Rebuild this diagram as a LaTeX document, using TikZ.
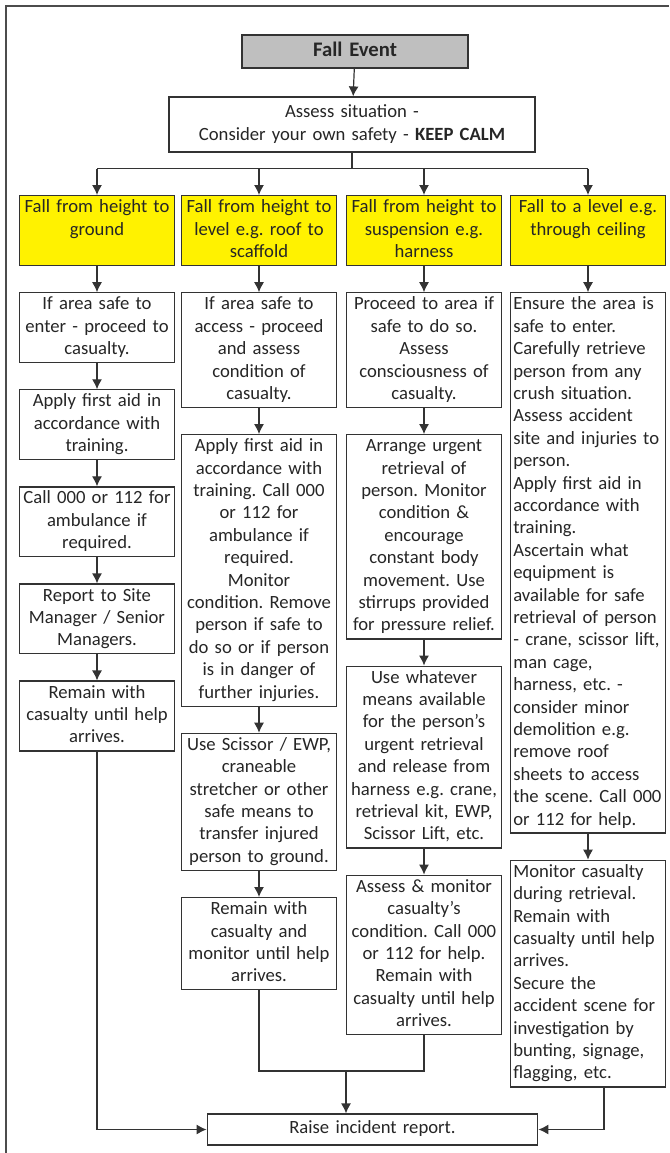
\documentclass[tikz,border=0pt]{standalone}
\usepackage{fontspec}
\setmainfont{Carlito}
\frenchspacing
\usetikzlibrary{positioning,arrows.meta}

\tikzset{
  txt/.style={font=\fontsize{14}{16.8}\selectfont},
  box/.style={draw=black!80, fill=white, text=black!85, txt, inner xsep=0pt, inner ysep=1pt,
    text width=116pt, align=center, execute at begin node=\strut, execute at end node=\strut},
  lbox/.style={box, align=left, inner xsep=2pt, text width=112pt},
  ybox/.style={box, fill=yellow, minimum height=52.5pt},
}

\begin{document}
\begin{tikzpicture}[x=0.75pt, y=-0.75pt, line width=0.9pt, draw=black!80, >={Latex[length=7.5pt,width=7.5pt]}, node distance=19.5pt]
\useasboundingbox (0,0) rectangle (669,1153);

% frame (only top and left edge show)
\draw[black!70, line width=1.1pt] (6,1153) -- (6,6) -- (669,6);

\node[box, fill=black!25, text width=169.5pt, minimum height=24.75pt, font=\fontsize{15.5}{18}\selectfont\bfseries] (event) at (355,51.5) {Fall Event};
\node[box, text width=274.5pt, minimum height=41.25pt] (assess) at (352,124.5) {Assess situation -\\Consider your own safety - \textbf{KEEP CALM}};

% kinds of fall
\node[ybox, anchor=north] (ground)  at (97,195)  {Fall from height to\\ground\\\strut};
\node[ybox, anchor=north] (roof)    at (259,195) {Fall from height to\\level e.g. roof to\\scaffold};
\node[ybox, anchor=north] (harness) at (424,195) {Fall from height to\\suspension e.g.\\harness};
\node[ybox, anchor=north] (ceiling) at (588,195) {Fall to a level e.g.\\through ceiling\\\strut};

% fall to ground
\node[box] (g1) [below=of ground] {If area safe to\\enter - proceed to\\casualty.};
\node[box] (g2) [below=of g1] {Apply first aid in\\accordance with\\training.};
\node[box] (g3) [below=of g2] {Call 000 or 112 for\\ambulance if\\required.};
\node[box] (g4) [below=of g3] {Report to Site\\Manager / Senior\\Managers.};
\node[box] (g5) [below=of g4] {Remain with\\casualty until help\\arrives.};

% fall to roof / scaffold
\node[box] (r1) [below=of roof] {If area safe to\\access - proceed\\and assess\\condition of\\casualty.};
\node[box] (r2) [below=of r1] {Apply first aid in\\accordance with\\training. Call 000\\or 112 for\\ambulance if\\required.\\Monitor\\condition. Remove\\person if safe to\\do so or if person\\is in danger of\\further injuries.};
\node[box] (r3) [below=of r2] {Use Scissor / EWP,\\craneable\\stretcher or other\\safe means to\\transfer injured\\person to ground.};
\node[box] (r4) [below=of r3] {Remain with\\casualty and\\monitor until help\\arrives.};

% suspension in harness
\node[box] (h1) [below=of harness] {Proceed to area if\\safe to do so.\\Assess\\consciousness of\\casualty.};
\node[box] (h2) [below=of h1] {Arrange urgent\\retrieval of\\person. Monitor\\condition \&\\encourage\\constant body\\movement. Use\\stirrups provided\\for pressure relief.};
\node[box] (h3) [below=of h2] {Use whatever\\means available\\for the person's\\urgent retrieval\\and release from\\harness e.g. crane,\\retrieval kit, EWP,\\Scissor Lift, etc.};
\node[box] (h4) [below=of h3] {Assess \& monitor\\casualty's\\condition. Call 000\\or 112 for help.\\Remain with\\casualty until help\\arrives.};

% through ceiling
\node[lbox] (c1) [below=of ceiling] {Ensure the area is\\safe to enter.\\Carefully retrieve\\person from any\\crush situation.\\Assess accident\\site and injuries to\\person.\\Apply first aid in\\accordance with\\training.\\Ascertain what\\equipment is\\available for safe\\retrieval of person\\- crane, scissor lift,\\man cage,\\harness, etc. -\\consider minor\\demolition e.g.\\remove roof\\sheets to access\\the scene. Call 000\\or 112 for help.};
\node[lbox] (c2) [below=of c1] {Monitor casualty\\during retrieval.\\Remain with\\casualty until help\\arrives.\\Secure the\\accident scene for\\investigation by\\bunting, signage,\\flagging, etc.};

\node[box, text width=248pt, minimum height=23.25pt] (report) at (372.5,1129.5) {Raise incident report.};

% connectors
\draw[->] (event) -- (assess);
\draw (assess.south) -- ++(0,16) coordinate (bus);
\draw (ground.north |- bus) -- (ceiling.north |- bus);
\draw[->] (ground.north |- bus) -- (ground);
\draw[->] (roof.north |- bus) -- (roof);
\draw[->] (harness.north |- bus) -- (harness);
\draw[->] (ceiling.north |- bus) -- (ceiling);

\draw[->] (ground) -- (g1);
\draw[->] (g1) -- (g2);
\draw[->] (g2) -- (g3);
\draw[->] (g3) -- (g4);
\draw[->] (g4) -- (g5);

\draw[->] (roof) -- (r1);
\draw[->] (r1) -- (r2);
\draw[->] (r2) -- (r3);
\draw[->] (r3) -- (r4);

\draw[->] (harness) -- (h1);
\draw[->] (h1) -- (h2);
\draw[->] (h2) -- (h3);
\draw[->] (h3) -- (h4);

\draw[->] (ceiling) -- (c1);
\draw[->] (c1) -- (c2);

\coordinate (join) at (346,1071);
\draw (r4) |- (join) -| (h4);
\draw[->] (join) -- (join |- report.north);
\draw[->] (g5) |- (report);
\draw[->] ([xshift=12pt]c2.south) |- (report);

\end{tikzpicture}
\end{document}
